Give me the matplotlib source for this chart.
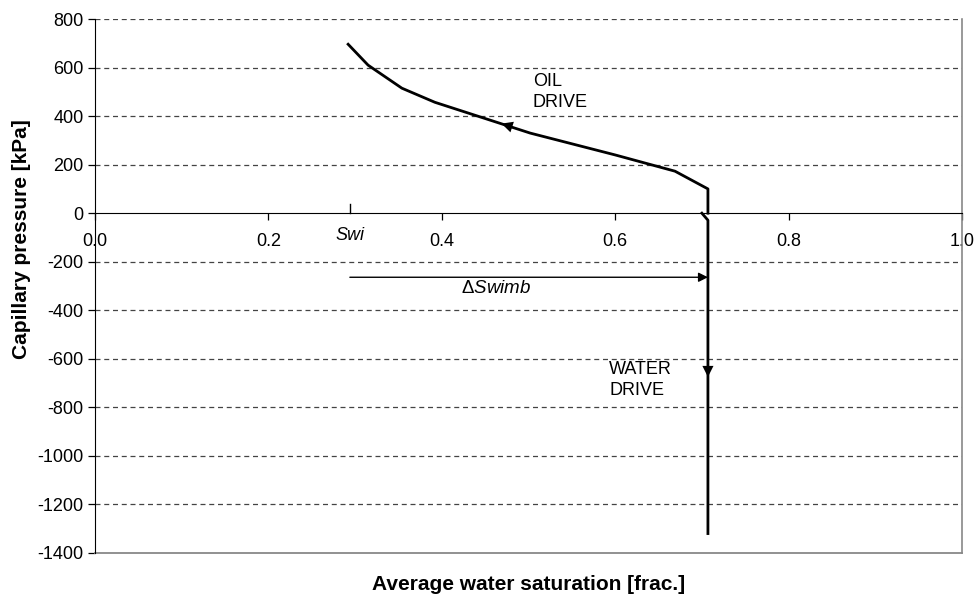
import numpy as np
import matplotlib.pyplot as plt

plt.rcParams['font.family'] = ['Liberation Sans', 'DejaVu Sans']
plt.rcParams['mathtext.fontset'] = 'custom'
plt.rcParams['mathtext.rm'] = 'Liberation Sans'
plt.rcParams['mathtext.it'] = 'Liberation Sans:italic'
plt.rcParams['axes.unicode_minus'] = False

# oil drive (drainage) curve
oil_sw = [0.292, 0.315, 0.354, 0.392, 0.502, 0.600, 0.669, 0.707, 0.707]
oil_pc = [696, 610, 515, 457, 330, 240, 173, 100, 0]

# water drive (imbibition) curve
water_sw = [0.700, 0.707, 0.707]
water_pc = [0, -29, -1320]

swi = 0.294
sw_imb = 0.707
delta_pc = -264

x_ticks = [0.0, 0.2, 0.4, 0.6, 0.8, 1.0]
y_ticks = list(range(-1400, 801, 200))

fig = plt.figure(figsize=(9.78, 5.98), dpi=100)
ax = fig.add_axes([0.0971, 0.0753, 0.8865, 0.8929])

ax.set_xlim(0, 1)
ax.set_ylim(-1400, 800)

# dashed gridlines
for y in y_ticks:
    if y in (0, -1400):
        continue
    ax.axhline(y, color='#444444', lw=0.9, ls=(0, (4, 3)), zorder=1)

ax.plot(oil_sw, oil_pc, color='black', lw=2.0, zorder=3)
ax.plot(water_sw, water_pc, color='black', lw=2.0, zorder=3)

# direction arrows
ax.annotate('', xy=(0.469, 369), xytext=(0.50, 333),
            arrowprops=dict(arrowstyle='-|>', color='black', lw=0, mutation_scale=20,
                            shrinkA=0, shrinkB=0), zorder=4)
ax.annotate('', xy=(sw_imb, -675), xytext=(sw_imb, -560),
            arrowprops=dict(arrowstyle='-|>', color='black', lw=0, mutation_scale=20,
                            shrinkA=0, shrinkB=0), zorder=4)

# Swi marker and delta Swimb arrow
ax.plot([swi, swi], [0, 37], color='black', lw=1.0, zorder=3)
ax.text(swi, -92, 'Swi', style='italic', fontsize=13, ha='center', va='center')
ax.annotate('', xy=(sw_imb, delta_pc), xytext=(swi, delta_pc),
            arrowprops=dict(arrowstyle='-|>', color='black', lw=1.0, mutation_scale=14,
                            shrinkA=0, shrinkB=0), zorder=3)
ax.text(0.4625, -309, r'$\Delta\mathit{Swimb}$', fontsize=13.5, ha='center', va='center')

ax.text(0.505, 577, 'OIL\nDRIVE', fontsize=13, ha='left', va='top', linespacing=1.3)
ax.text(0.593, -610, 'WATER\nDRIVE', fontsize=13, ha='left', va='top', linespacing=1.3)

# axes styling
ax.spines['bottom'].set_position(('data', 0))
ax.spines['bottom'].set_color('black')
ax.spines['left'].set_color('black')
ax.spines['top'].set_visible(False)
ax.spines['right'].set_color('#888888')
ax.spines['right'].set_linewidth(1.2)
ax.plot([0, 1], [0, 0], transform=ax.transAxes, color='#888888', lw=1.3, clip_on=False)

ax.set_xticks(x_ticks)
ax.set_xticklabels(['%.1f' % t for t in x_ticks])
ax.set_yticks(y_ticks)
ax.tick_params(axis='x', direction='out', length=5, width=0.9, pad=9, labelsize=13)
ax.tick_params(axis='y', direction='out', length=5, width=0.9, pad=3, labelsize=13)

fig.text(0.0215, 0.60, 'Capillary pressure [kPa]', fontsize=15, fontweight='bold',
         rotation=90, ha='center', va='center')
fig.text(0.5404, 0.022, 'Average water saturation [frac.]', fontsize=15,
         fontweight='bold', ha='center', va='center')

fig.savefig('out.png', dpi=100)
